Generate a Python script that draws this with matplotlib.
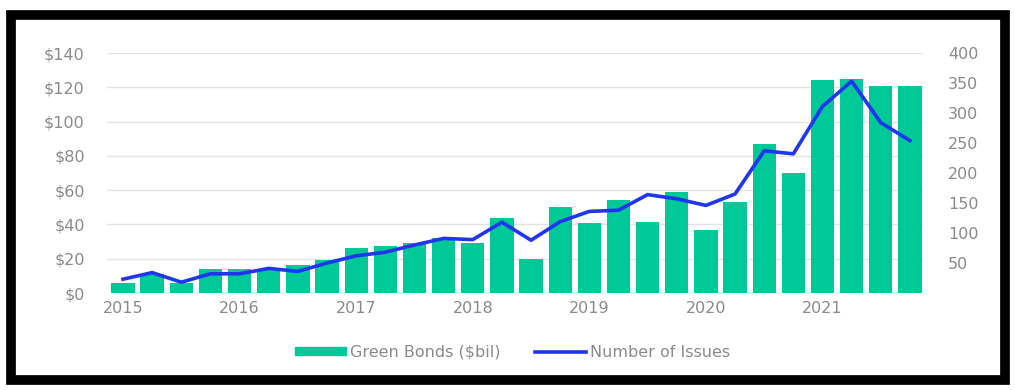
import numpy as np
import matplotlib
matplotlib.use("Agg")
import matplotlib.pyplot as plt
from matplotlib.patches import Rectangle, Patch
from matplotlib.lines import Line2D

# Emisiones trimestrales de bonos verdes, 2015 T1 - 2021 T4
years = [2015, 2016, 2017, 2018, 2019, 2020, 2021]
quarters = [f"{y}Q{q}" for y in years for q in range(1, 5)]
bonds = [6, 11, 6, 14, 14, 14, 16.5, 19,
         26, 27.5, 29, 32, 29, 44, 20, 50,
         41, 54, 41.5, 59, 37, 53, 87, 70,
         124, 125, 121, 121]
issues = [23, 34, 18, 32, 32, 41, 36, 50,
          62, 68, 80, 91, 89, 118, 88, 119,
          136, 138, 164, 157, 146, 165, 237, 232,
          311, 353, 284, 254]
left_ticks = [0, 20, 40, 60, 80, 100, 120, 140]
right_ticks = [50, 100, 150, 200, 250, 300, 350, 400]

GREEN = '#00c896'
BLUE = '#1f35f0'
GREY = '#8a8a8a'

fig = plt.figure(figsize=(10.15, 3.9), dpi=100)
ax = fig.add_axes([0.1054, 0.2487, 0.8040, 0.6153])
ax2 = ax.twinx()

x = np.arange(len(quarters))
ax.bar(x, bonds, width=0.8, color=GREEN, zorder=2)
ax2.plot(x, issues, color=BLUE, lw=2.6, zorder=3)

ax.set_xlim(-0.55, 27.45)
ax.set_ylim(0, 140)
ax2.set_ylim(0, 400)
ax.set_yticks(left_ticks)
ax.set_yticklabels([f"${v}" for v in left_ticks])
ax2.set_yticks(right_ticks)
ax.set_xticks(x[::4])
ax.set_xticklabels([str(y) for y in years])

ax.grid(axis='y', color='#e3e3e3', lw=1, zorder=0)
ax.set_axisbelow(True)
for a in (ax, ax2):
    for s in a.spines.values():
        s.set_visible(False)
    a.tick_params(length=0, colors=GREY, labelsize=11.5)
ax.tick_params(axis='y', pad=16)
ax.tick_params(axis='x', pad=6)
ax2.tick_params(axis='y', pad=18)
ax.set_zorder(ax2.get_zorder() - 1)
ax2.patch.set_visible(False)

handles = [Patch(color=GREEN, label='Green Bonds ($bil)'),
           Line2D([0], [0], color=BLUE, lw=2.6, label='Number of Issues')]
leg = fig.legend(handles=handles, loc='center', bbox_to_anchor=(0.505, 0.097),
                 ncol=2, frameon=False, fontsize=11.5, handlelength=3.2,
                 handleheight=0.45, handletextpad=0.2, columnspacing=2.2)
for t in leg.get_texts():
    t.set_color(GREY)

# marco negro alrededor del grafico
frame = Rectangle((11 / 1015, 10 / 390), 994 / 1015, 365 / 390, transform=fig.transFigure,
                  fill=False, edgecolor='black', lw=7, zorder=10)
fig.patches.append(frame)

fig.savefig('out.png', dpi=100)
